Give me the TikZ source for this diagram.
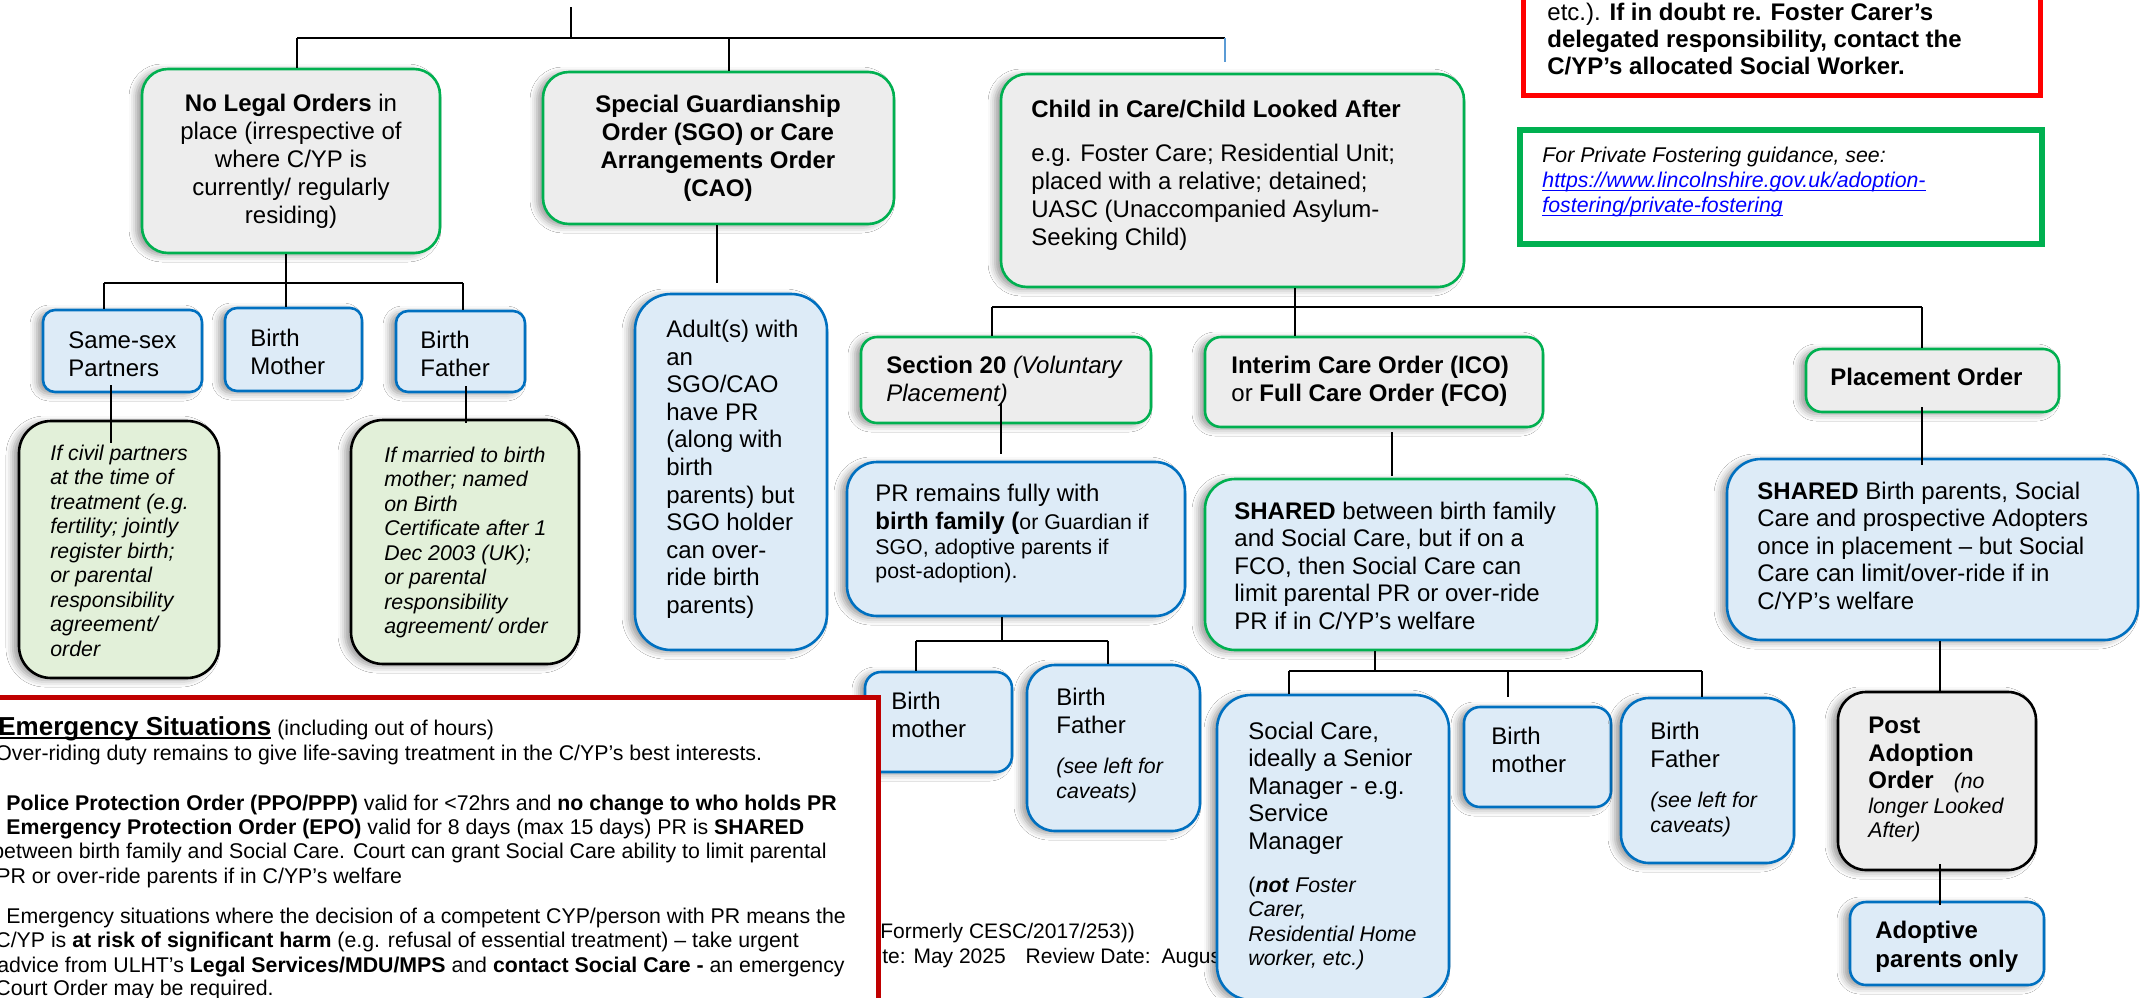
\documentclass[tikz,border=0pt]{standalone}
\usepackage{fontspec}
\setmainfont{Liberation Sans}
\usetikzlibrary{fit,shadows.blur}
\definecolor{bgray}{HTML}{EDEDED}
\definecolor{bgreen}{HTML}{00B050}
\definecolor{bblue}{HTML}{DDEBF7}
\definecolor{bblueline}{HTML}{0070C0}
\definecolor{gfill}{HTML}{E2F0D9}
\definecolor{redA}{HTML}{FF0000}
\definecolor{redB}{HTML}{C00000}
\definecolor{linkblue}{HTML}{0000FF}
\definecolor{thinblue}{HTML}{5B9BD5}
\newcommand\ulx[1]{\setbox0\hbox{#1}\rlap{\rule[-2pt]{\wd0}{0.8pt}}\box0}
\newcommand\smallf{\fontsize{10.65}{12.25}\selectfont}
\begin{document}
\begin{tikzpicture}[x=0.5pt,y=-0.5pt,
  shad/.style={blur shadow={shadow xshift=-3pt, shadow yshift=-1pt, shadow blur radius=3.5pt, shadow opacity=40}},
  gbox/.style={draw=bgreen, fill=bgray, line width=1.3pt, shad, inner sep=0pt},
  bbox/.style={draw=bblueline, fill=bblue, line width=1.3pt, shad, inner sep=0pt},
  sbox/.style={draw=bgreen, fill=bblue, line width=1.3pt, shad, inner sep=0pt},
  nbox/.style={draw=black, fill=gfill, line width=1.3pt, shad, inner sep=0pt},
  pbox/.style={draw=black, fill=bgray, line width=1.3pt, shad, inner sep=0pt},
  M/.style={anchor=north west, inner sep=0pt, align=left, font=\fontsize{12}{14}\selectfont},
  Mc/.style={anchor=north, inner sep=0pt, align=center, font=\fontsize{12}{14}\selectfont},
  Si/.style={anchor=north west, inner sep=0pt, align=left, font=\smallf\itshape},
  L/.style={anchor=base west, inner sep=0pt, font=\smallf},
  conn/.style={draw=black, line width=0.8pt}
]
\useasboundingbox (0,0) rectangle (2143,997);
\clip (0,0) rectangle (2143,997);
\fill[white] (0,0) rectangle (2143,997);

% footer text (partly hidden)
\node[L, font=\fontsize{10.5}{12.25}\selectfont] (ft1) at (880,938) {Formerly CESC/2017/253))};
\node[L, font=\fontsize{10.5}{12.25}\selectfont] (ft2) at (882,963) {te: May 2025\hspace{10pt}Review Date:\hspace{5.5pt}Augus};

% boxes
\node[gbox, rounded corners=13pt, fit={(142,69) (440,253)}] (nl) {};
\node[gbox, rounded corners=13pt, fit={(543,72) (894,224)}] (sgo) {};
\node[gbox, rounded corners=13pt, fit={(1001,74) (1464,287)}] (cic) {};
\node[draw=redA, fill=white, line width=2.5pt, inner sep=0pt, fit={(1523,-20) (2040,95)}] (redtop) {};
\node[draw=bgreen, fill=white, line width=3pt, inner sep=0pt, fit={(1520,130) (2042,244)}] (pf) {};
\node[bbox, rounded corners=6pt, fit={(43,310) (202,392)}] (ss) {};
\node[bbox, rounded corners=6pt, fit={(225,308) (362,391)}] (bm) {};
\node[bbox, rounded corners=6pt, fit={(396,311) (525,392)}] (bf) {};
\node[nbox, rounded corners=16pt, fit={(19,421) (219,678)}] (g1) {};
\node[nbox, rounded corners=16pt, fit={(351,420) (579,664)}] (g2) {};
\node[bbox, rounded corners=18pt, fit={(635,294) (827,650)}] (adult) {};
\node[gbox, rounded corners=8pt, fit={(861,337) (1151,423)}] (s20) {};
\node[gbox, rounded corners=8pt, fit={(1205,337) (1543,427)}] (ico) {};
\node[gbox, rounded corners=8pt, fit={(1806,349) (2059,412)}] (po) {};
\node[bbox, rounded corners=15pt, fit={(847,462) (1185,616)}] (pr) {};
\node[sbox, rounded corners=15pt, fit={(1205,479) (1597,650)}] (sh) {};
\node[bbox, rounded corners=17pt, fit={(1727,459) (2138,640)}] (shbp) {};
\node[bbox, rounded corners=8pt, fit={(865,672) (1012,772)}] (bm1) {};
\node[bbox, rounded corners=14pt, fit={(1027,665) (1200,831)}] (bf1) {};
\node[bbox, rounded corners=17pt, fit={(1217,695) (1449,1000)}] (sc) {};
\node[bbox, rounded corners=8pt, fit={(1464,707) (1611,807)}] (bm2) {};
\node[bbox, rounded corners=14pt, fit={(1621,698) (1794,863)}] (bf2) {};
\node[pbox, rounded corners=14pt, fit={(1838,692) (2036,870)}] (pao) {};
\node[bbox, rounded corners=8pt, fit={(1850,902) (2044,985)}] (ap) {};
\node[draw=redB, fill=white, line width=2.5pt, inner sep=0pt, fit={(-20,697) (878,1020)}] (emg) {};

% texts
\node[Mc] (nlT) at (291,91.4) {\strut\textbf{No Legal Orders} in\\place (irrespective of\\where C/YP is\\currently/ regularly\\residing)};
\node[Mc, font=\fontsize{12}{14}\selectfont\bfseries] (sgoT) at (718,92.4) {\strut Special Guardianship\\Order (SGO) or Care\\Arrangements Order\\(CAO)};
\node[M] (cicT) at (1031,97.4) {\strut\textbf{Child in Care/Child Looked After}\\[8pt]e.g. Foster Care; Residential Unit;\\placed with a relative; detained;\\UASC (Unaccompanied Asylum-\\Seeking Child)};
\node[M, font=\fontsize{12}{13.5}\selectfont] (redT) at (1547,1.1) {\strut etc.). \textbf{If in doubt re. Foster Carer’s}\\\textbf{delegated responsibility, contact the}\\\textbf{C/YP’s allocated Social Worker.}};
\node[Si, font=\fontsize{10.65}{12.5}\selectfont\itshape] (pfT) at (1542,144.5) {\strut For Private Fostering guidance, see:\\\textcolor{linkblue}{\ulx{https://www.lincolnshire.gov.uk/adoption-}}\\\textcolor{linkblue}{\ulx{fostering/private-fostering}}};
\node[M] (ssT) at (68,328.4) {\strut Same-sex\\Partners};
\node[M] (bmT) at (250,326.4) {\strut Birth\\Mother};
\node[M] (bfT) at (420,328.4) {\strut Birth\\Father};
\node[Si] (g1T) at (50,442.85) {\strut If civil partners\\at the time of\\treatment (e.g.\\fertility; jointly\\register birth;\\or parental\\responsibility\\agreement/\\order};
\node[Si] (g2T) at (384,444.85) {\strut If married to birth\\mother; named\\on Birth\\Certificate after 1\\Dec 2003 (UK);\\or parental\\responsibility\\agreement/ order};
\node[M, font=\fontsize{12}{13.8}\selectfont] (adultT) at (666,317.7) {\strut Adult(s) with\\an\\SGO/CAO\\have PR\\(along with\\birth\\parents) but\\SGO holder\\can over-\\ride birth\\parents)};
\node[M] (s20T) at (886,353.4) {\strut\textbf{Section 20} \textit{(Voluntary}\\\textit{Placement)}};
\node[M] (icoT) at (1231,353.4) {\strut\textbf{Interim Care Order (ICO)}\\or \textbf{Full Care Order (FCO)}};
\node[anchor=base west, inner sep=0pt, font=\fontsize{12}{14}\selectfont\bfseries] (poT) at (1830,385) {Placement Order};
\node[M] (prT) at (875,481.4) {\strut PR remains fully with\\\textbf{birth family (}{\smallf or Guardian if}\\[-1.5pt]{\smallf SGO, adoptive parents if}\\[-2pt]{\smallf post-adoption).}};
\node[M, font=\fontsize{12}{13.75}\selectfont] (shT) at (1234,499.75) {\strut\textbf{SHARED} between birth family\\and Social Care, but if on a\\FCO, then Social Care can\\limit parental PR or over-ride\\PR if in C/YP’s welfare};
\node[M, font=\fontsize{12}{13.75}\selectfont] (shbpT) at (1757,479.75) {\strut\textbf{SHARED} Birth parents, Social\\Care and prospective Adopters\\once in placement – but Social\\Care can limit/over-ride if in\\C/YP’s welfare};
\node[M] (bm1T) at (891,689.4) {\strut Birth\\mother};
\node[M] (bf1T) at (1056,685.4) {\strut Birth\\Father\\[6pt]{\smallf\itshape (see left for}\\[-1.5pt]{\smallf\itshape caveats)}};
\node[M, font=\fontsize{12}{13.75}\selectfont] (scT) at (1248,719.75) {\strut Social Care,\\ideally a Senior\\Manager - e.g.\\Service\\Manager\\[7.75pt]{\smallf (\textbf{\itshape not} \textit{Foster}}\\[-1.5pt]{\smallf\itshape Carer,}\\[-1.5pt]{\smallf\itshape Residential Home}\\[-1.5pt]{\smallf\itshape worker, etc.)}};
\node[M] (bm2T) at (1491,724.4) {\strut Birth\\mother};
\node[M] (bf2T) at (1650,719.4) {\strut Birth\\Father\\[6pt]{\smallf\itshape (see left for}\\[-1.5pt]{\smallf\itshape caveats)}};
\node[M] (paoT) at (1868,713.4) {\strut\textbf{Post}\\\textbf{Adoption}\\[-0.5pt]\textbf{Order}\ \ \ {\smallf\itshape (no}\\[-1.5pt]{\smallf\itshape longer Looked}\\[-2pt]{\smallf\itshape After)}};
\node[M] (apT) at (1875,918.4) {\strut\textbf{Adoptive}\\[0.5pt]\textbf{parents only}};

% emergency text
\node[L] (e1) at (-2,735) {{\fontsize{13}{15}\selectfont\bfseries\ulx{Emergency Situations}} (including out of hours)};
\node[L] (e2) at (-5,760) {Over-riding duty remains to give life-saving treatment in the C/YP’s best interests.};
\node[L] (e3) at (6,810) {\textbf{Police Protection Order (PPO/PPP)} valid for <72hrs and \textbf{no change to who holds PR}};
\node[L] (e4) at (6,834) {\textbf{Emergency Protection Order (EPO)} valid for 8 days (max 15 days) PR is \textbf{SHARED}};
\node[L] (e5) at (-8,858) {between birth family and Social Care. Court can grant Social Care ability to limit parental};
\node[L] (e6) at (-4,883) {PR or over-ride parents if in C/YP’s welfare};
\node[L] (e7) at (6,923) {Emergency situations where the decision of a competent CYP/person with PR means the};
\node[L] (e8) at (-5,947) {C/YP is \textbf{at risk of significant harm} (e.g. refusal of essential treatment) – take urgent};
\node[L] (e9) at (-3,972) {advice from ULHT’s \textbf{Legal Services/MDU/MPS} and \textbf{contact Social Care -} an emergency};
\node[L] (e10) at (-5,995) {Court Order may be required.};

% connector coordinates
\coordinate (top0) at (571,7);
\coordinate (b1L) at (297,38);
\coordinate (b1M) at (571,38);
\coordinate (b1S) at (729,38);
\coordinate (b1R) at (1225,38);
\coordinate (cicin) at (1225,62);
\coordinate (b2L) at (104,283);
\coordinate (b2M) at (286,283);
\coordinate (b2R) at (463,283);
\coordinate (c1a) at (111,385);
\coordinate (c1b) at (111,443);
\coordinate (c2a) at (466,386);
\coordinate (c2b) at (466,423);
\coordinate (c3) at (717,283);
\coordinate (b3L) at (992,307);
\coordinate (b3M) at (1295,307);
\coordinate (b3R) at (1922,307);
\coordinate (c4a) at (1001,403);
\coordinate (c4b) at (1001,454);
\coordinate (b4L) at (916,641);
\coordinate (b4M) at (1002,641);
\coordinate (b4R) at (1108,641);
\coordinate (c5a) at (1392,432);
\coordinate (c5b) at (1392,476);
\coordinate (b5L) at (1289,671);
\coordinate (b5M) at (1375,671);
\coordinate (b5C) at (1508,671);
\coordinate (b5Cd) at (1508,697);
\coordinate (b5R) at (1702,671);
\coordinate (c6a) at (1922,407);
\coordinate (c6b) at (1922,465);
\coordinate (c7) at (1940,0);
\coordinate (c8a) at (1940,864);
\coordinate (c8b) at (1940,905);

% connectors
\draw[conn] (top0) -- (b1M);
\draw[conn, line width=1.2pt] (b1L) -- (b1R);
\draw[conn] (b1L) -- (b1L |- nl.north);
\draw[conn] (b1S) -- (b1S |- sgo.north);
\draw[thinblue, line width=0.6pt] (b1R) -- (cicin);
\draw[conn] (nl.south -| b2M) -- (b2M);
\draw[conn, line width=1.2pt] (b2L) -- (b2R);
\draw[conn] (b2L) -- (b2L |- ss.north);
\draw[conn] (b2M) -- (b2M |- bm.north);
\draw[conn] (b2R) -- (b2R |- bf.north);
\draw[conn] (c1a) -- (c1b);
\draw[conn] (c2a) -- (c2b);
\draw[conn] (sgo.south -| c3) -- (c3);
\draw[conn] (cic.south -| b3M) -- (b3M |- ico.north);
\draw[conn, line width=1.2pt] (b3L) -- (b3R);
\draw[conn] (b3L) -- (b3L |- s20.north);
\draw[conn] (b3R) -- (b3R |- po.north);
\draw[conn] (c4a) -- (c4b);
\draw[conn] (pr.south -| b4M) -- (b4M);
\draw[conn, line width=1.2pt] (b4L) -- (b4R);
\draw[conn] (b4L) -- (b4L |- bm1.north);
\draw[conn] (b4R) -- (b4R |- bf1.north);
\draw[conn] (c5a) -- (c5b);
\draw[conn] (sh.south -| b5M) -- (b5M);
\draw[conn, line width=1.2pt] (b5L) -- (b5R);
\draw[conn] (b5L) -- (b5L |- sc.north);
\draw[conn] (b5C) -- (b5Cd);
\draw[conn] (b5R) -- (b5R |- bf2.north);
\draw[conn] (c6a) -- (c6b);
\draw[conn] (shbp.south -| c7) -- (c7 |- pao.north);
\draw[conn] (c8a) -- (c8b);
\end{tikzpicture}
\end{document}
